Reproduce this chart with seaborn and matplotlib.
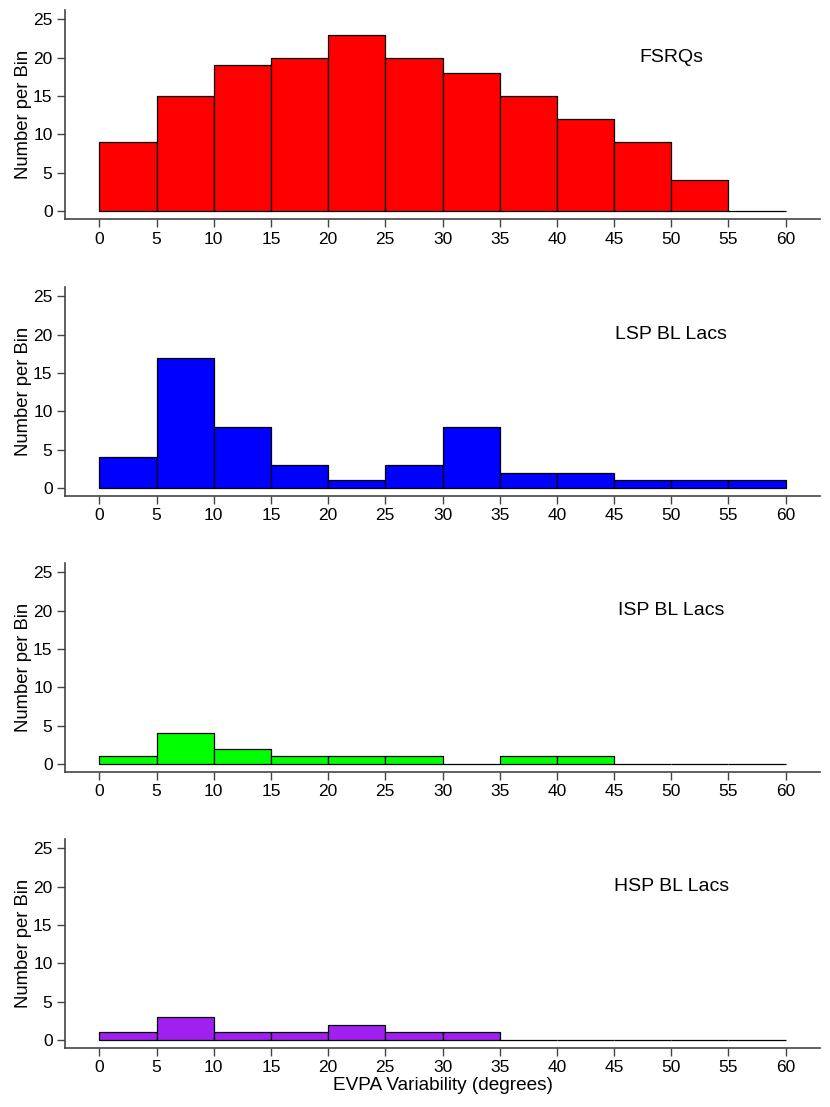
import matplotlib
matplotlib.use("Agg")
import matplotlib.pyplot as plt
import seaborn as sns
import numpy as np
import pandas as pd

bin_edges = [0, 5, 10, 15, 20, 25, 30, 35, 40, 45, 50, 55, 60]
bin_centers = [2.5, 7.5, 12.5, 17.5, 22.5, 27.5, 32.5, 37.5, 42.5, 47.5, 52.5, 57.5]
fsrq_counts = [9, 15, 19, 20, 23, 20, 18, 15, 12, 9, 4, 0]
lsp_counts = [4, 17, 8, 3, 1, 3, 8, 2, 2, 1, 1, 1]
isp_counts = [1, 4, 2, 1, 1, 1, 0, 1, 1, 0, 0, 0]
hsp_counts = [1, 3, 1, 1, 2, 1, 1, 0, 0, 0, 0, 0]
labels = ["FSRQs", "LSP BL Lacs", "ISP BL Lacs", "HSP BL Lacs"]
colors = ["#FF0000", "#0000FF", "#00FF00", "#A020F0"]
x_ticks = [0, 5, 10, 15, 20, 25, 30, 35, 40, 45, 50, 55, 60]
y_ticks = [0, 5, 10, 15, 20, 25]

sns.set_style("ticks")
plt.rcParams['font.family'] = ['Liberation Sans', 'DejaVu Sans']
plt.rcParams['text.color'] = 'black'
plt.rcParams['axes.labelcolor'] = 'black'
plt.rcParams['xtick.labelcolor'] = 'black'
plt.rcParams['ytick.labelcolor'] = 'black'

fig = plt.figure(figsize=(8.3, 11.07), dpi=100)
W, H = 830, 1107
tops = [10, 287, 563, 839]
bottoms = [219, 496, 772, 1048]
left, right = 65, 820

series = [fsrq_counts, lsp_counts, isp_counts, hsp_counts]
for i, counts in enumerate(series):
    ax = fig.add_axes([left / W, 1 - bottoms[i] / H, (right - left) / W, (bottoms[i] - tops[i]) / H])
    df = pd.DataFrame({"x": bin_centers, "w": counts})
    sns.histplot(data=df, x="x", weights="w", bins=bin_edges, ax=ax,
                 color=colors[i], alpha=1, edgecolor="black", linewidth=0.9,
                 element="bars", fill=True)
    ax.set_xlim(-3, 63)
    ax.set_ylim(-1.04, 26.2)
    ax.set_xticks(x_ticks)
    ax.set_yticks(y_ticks)
    ax.tick_params(axis="both", labelsize=12.5, length=6, width=1, color="#444444",
                   labelcolor="black", direction="out", pad=3)
    for s in ["left", "bottom"]:
        ax.spines[s].set_color("#444444")
        ax.spines[s].set_linewidth(1.2)
    sns.despine(ax=ax)
    ax.set_ylabel("Number per Bin", fontsize=13.3, color="black", labelpad=1)
    if i == 3:
        ax.set_xlabel("EVPA Variability (degrees)", fontsize=13.7, color="black", labelpad=1)
    else:
        ax.set_xlabel("")
    ax.text(50, 20, labels[i], ha="center", va="center", fontsize=14, color="black")

fig.savefig("out.png", dpi=100)
